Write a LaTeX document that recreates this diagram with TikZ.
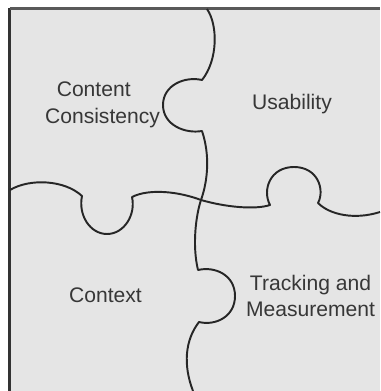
\documentclass[tikz,border=0pt]{standalone}
\usepackage{fontspec}
\setmainfont{Liberation Sans}
\usepackage{tikz}
\definecolor{piecegray}{RGB}{229,229,229}
\definecolor{edgegray}{RGB}{38,38,38}
\definecolor{labelgray}{RGB}{55,55,55}
\tikzset{>=latex}
\tikzset{seam/.style={draw=edgegray,line width=1.1pt,line join=round},
  piecelabel/.style={text=labelgray,font=\fontsize{12}{15.3}\selectfont,align=center,inner sep=0pt}}

\begin{document}
\begin{tikzpicture}[x=0.02cm,y=-0.02cm]
      \useasboundingbox (0,0) rectangle (380,391);
      \fill [piecegray] (9,8) rectangle (380,391);
      \draw [line width=1.7pt,color=black!80] (9.5,391) -- (9.5,8.5);
      \draw [line width=1.7pt,color=black!65] (9.5,8.5) -- (380,8.5);
      \coordinate (cross) at (201,200);

      % vertical seam, top to bottom
      \draw [seam] (207,9) .. controls (218,25) and (218,60) .. (202,80)
        .. controls (185,76) and (163,85) .. (163,105)
        .. controls (163,125) and (185,134) .. (202,131)
        .. controls (210,155) and (208,180) .. (cross)
        .. controls (196,215) and (192,245) .. (198,270)
        .. controls (215,266) and (235,275) .. (235,296)
        .. controls (235,317) and (215,326) .. (199,322)
        .. controls (185,340) and (183,365) .. (193,391);

      % horizontal seam, left to right
      \draw [seam] (10,190) .. controls (30,178) and (65,180) .. (82,196)
        .. controls (78,215) and (90,234) .. (107,234)
        .. controls (124,234) and (136,215) .. (132,197)
        .. controls (150,188) and (180,192) .. (cross)
        .. controls (225,207) and (255,210) .. (270,205)
        .. controls (262,190) and (270,167) .. (294,167)
        .. controls (318,167) and (325,190) .. (318,203)
        .. controls (330,215) and (355,220) .. (380,212);

      \node [piecelabel] (consistency) at (102.5,105) {Content\hspace*{10pt}\\Consistency};
      \node [piecelabel] (usability) at (292,104.5) {Usability};
      \node [piecelabel] (context) at (105.5,295) {Context};
      \node [piecelabel] (tracking) at (310.5,296) {Tracking and\\Measurement};
\end{tikzpicture}
\end{document}
